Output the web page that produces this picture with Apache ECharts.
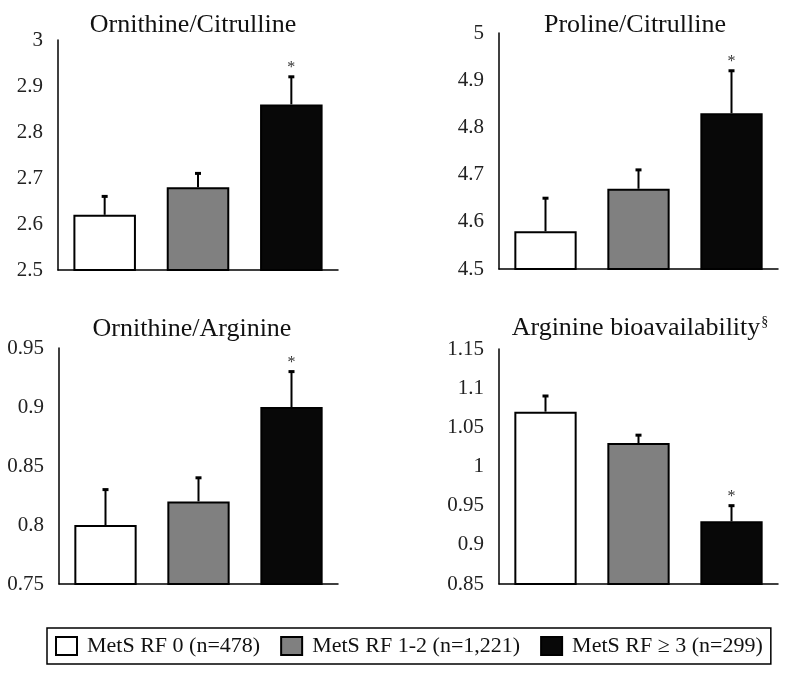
<!DOCTYPE html>
<html>
<head>
<meta charset="utf-8">
<script src="https://cdn.jsdelivr.net/npm/echarts@6/dist/echarts.min.js"></script>
<style>html,body{margin:0;padding:0;background:#fff;}#c{width:797px;height:679px;}</style>
</head>
<body>
<div id="c"></div>
<script>
// ---- data ----
var groups = ['MetS RF 0 (n=478)', 'MetS RF 1-2 (n=1,221)', 'MetS RF \u2265 3 (n=299)'];
var panelTitles = ['Ornithine/Citrulline', 'Proline/Citrulline', 'Ornithine/Arginine', 'Arginine bioavailability'];
var ornCit = [2.62, 2.68, 2.86];
var ornCitSE = [0.04, 0.03, 0.06];
var proCit = [4.58, 4.67, 4.83];
var proCitSE = [0.07, 0.04, 0.09];
var ornArg = [0.80, 0.82, 0.90];
var ornArgSE = [0.03, 0.02, 0.03];
var argBio = [1.07, 1.03, 0.93];
var argBioSE = [0.02, 0.01, 0.02];
var significant = [false, false, true];
var yMin = [2.5, 4.5, 0.75, 0.85];
var yMax = [3, 5, 0.95, 1.15];
var yStep = [0.1, 0.1, 0.05, 0.05];

var values = [ornCit, proCit, ornArg, argBio];
var ses = [ornCitSE, proCitSE, ornArgSE, argBioSE];

// ---- layout / style ----
var FONT = "'Liberation Serif', 'Times New Roman', serif";
var grids = [
  {left: 58, top: 40, width: 280, height: 230},
  {left: 499, top: 33, width: 279, height: 236},
  {left: 59, top: 348, width: 279, height: 236},
  {left: 499, top: 349, width: 279, height: 235}
];
var titlePos = [[193, 12], [635, 12], [192, 316], [640, 315]];
var fills = ['#ffffff', '#808080', '#080808'];

var option = {
  animation: false,
  backgroundColor: '#fff',
  title: [],
  grid: [],
  xAxis: [],
  yAxis: [],
  legend: {
    data: groups,
    left: 47, top: 628,
    orient: 'horizontal',
    padding: [7, 8, 7, 8],
    borderColor: '#000', borderWidth: 1.5,
    itemWidth: 21, itemHeight: 18, itemGap: 20,
    icon: 'rect',
    textStyle: {fontFamily: FONT, fontSize: 22, color: '#111', padding: [0, 0, 0, 5]}
  },
  series: []
};

for (var p = 0; p < 4; p++) {
  option.grid.push(grids[p]);
  var txt = p === 3 ? panelTitles[p] + '{s|\u00a7}' : panelTitles[p];
  option.title.push({
    text: txt,
    left: titlePos[p][0], top: titlePos[p][1], textAlign: 'center', padding: 0,
    textStyle: {fontFamily: FONT, fontSize: 26, fontWeight: 'normal', color: '#111',
      rich: {s: {fontFamily: FONT, fontSize: 14, color: '#111', padding: [0, 0, 12, 1]}}}
  });
  option.xAxis.push({
    type: 'category', gridIndex: p, data: groups,
    axisLine: {show: true, lineStyle: {color: '#000', width: 1.5}},
    axisTick: {show: false}, axisLabel: {show: false}, splitLine: {show: false}
  });
  option.yAxis.push({
    type: 'value', gridIndex: p, min: yMin[p], max: yMax[p], interval: yStep[p],
    axisLine: {show: true, lineStyle: {color: '#000', width: 1.5}},
    axisTick: {show: false}, splitLine: {show: false},
    axisLabel: {fontFamily: FONT, fontSize: 21, color: '#222', margin: 15}
  });
  for (var g = 0; g < 3; g++) {
    var d = ['-', '-', '-'];
    d[g] = values[p][g];
    option.series.push({
      type: 'bar', name: groups[g], xAxisIndex: p, yAxisIndex: p,
      data: d, barWidth: '67%', barGap: '-100%',
      itemStyle: {color: fills[g], borderColor: '#000', borderWidth: 2}
    });
  }
  var errData = [];
  for (var g2 = 0; g2 < 3; g2++) {
    errData.push([g2, values[p][g2], values[p][g2] + ses[p][g2], significant[g2] ? 1 : 0]);
  }
  option.series.push({
    type: 'custom', xAxisIndex: p, yAxisIndex: p, z: 10, silent: true,
    data: errData,
    encode: {x: 0, y: [1, 2]},
    renderItem: function (params, api) {
      var c = api.value(0);
      var b = api.coord([c, api.value(1)]);
      var t = api.coord([c, api.value(2)]);
      var children = [
        {type: 'line', shape: {x1: b[0], y1: b[1], x2: t[0], y2: t[1]}, style: {stroke: '#000', lineWidth: 2}},
        {type: 'line', shape: {x1: t[0] - 3, y1: t[1], x2: t[0] + 3, y2: t[1]}, style: {stroke: '#000', lineWidth: 3}}
      ];
      if (api.value(3) === 1) {
        children.push({type: 'text', style: {text: '*', x: t[0], y: t[1] - 1, textAlign: 'center', textVerticalAlign: 'bottom',
          font: '16px ' + FONT, fill: '#333'}});
      }
      return {type: 'group', children: children};
    }
  });
}

var chart = echarts.init(document.getElementById('c'), null, {renderer: 'canvas'});
chart.setOption(option);
</script>
</body>
</html>
